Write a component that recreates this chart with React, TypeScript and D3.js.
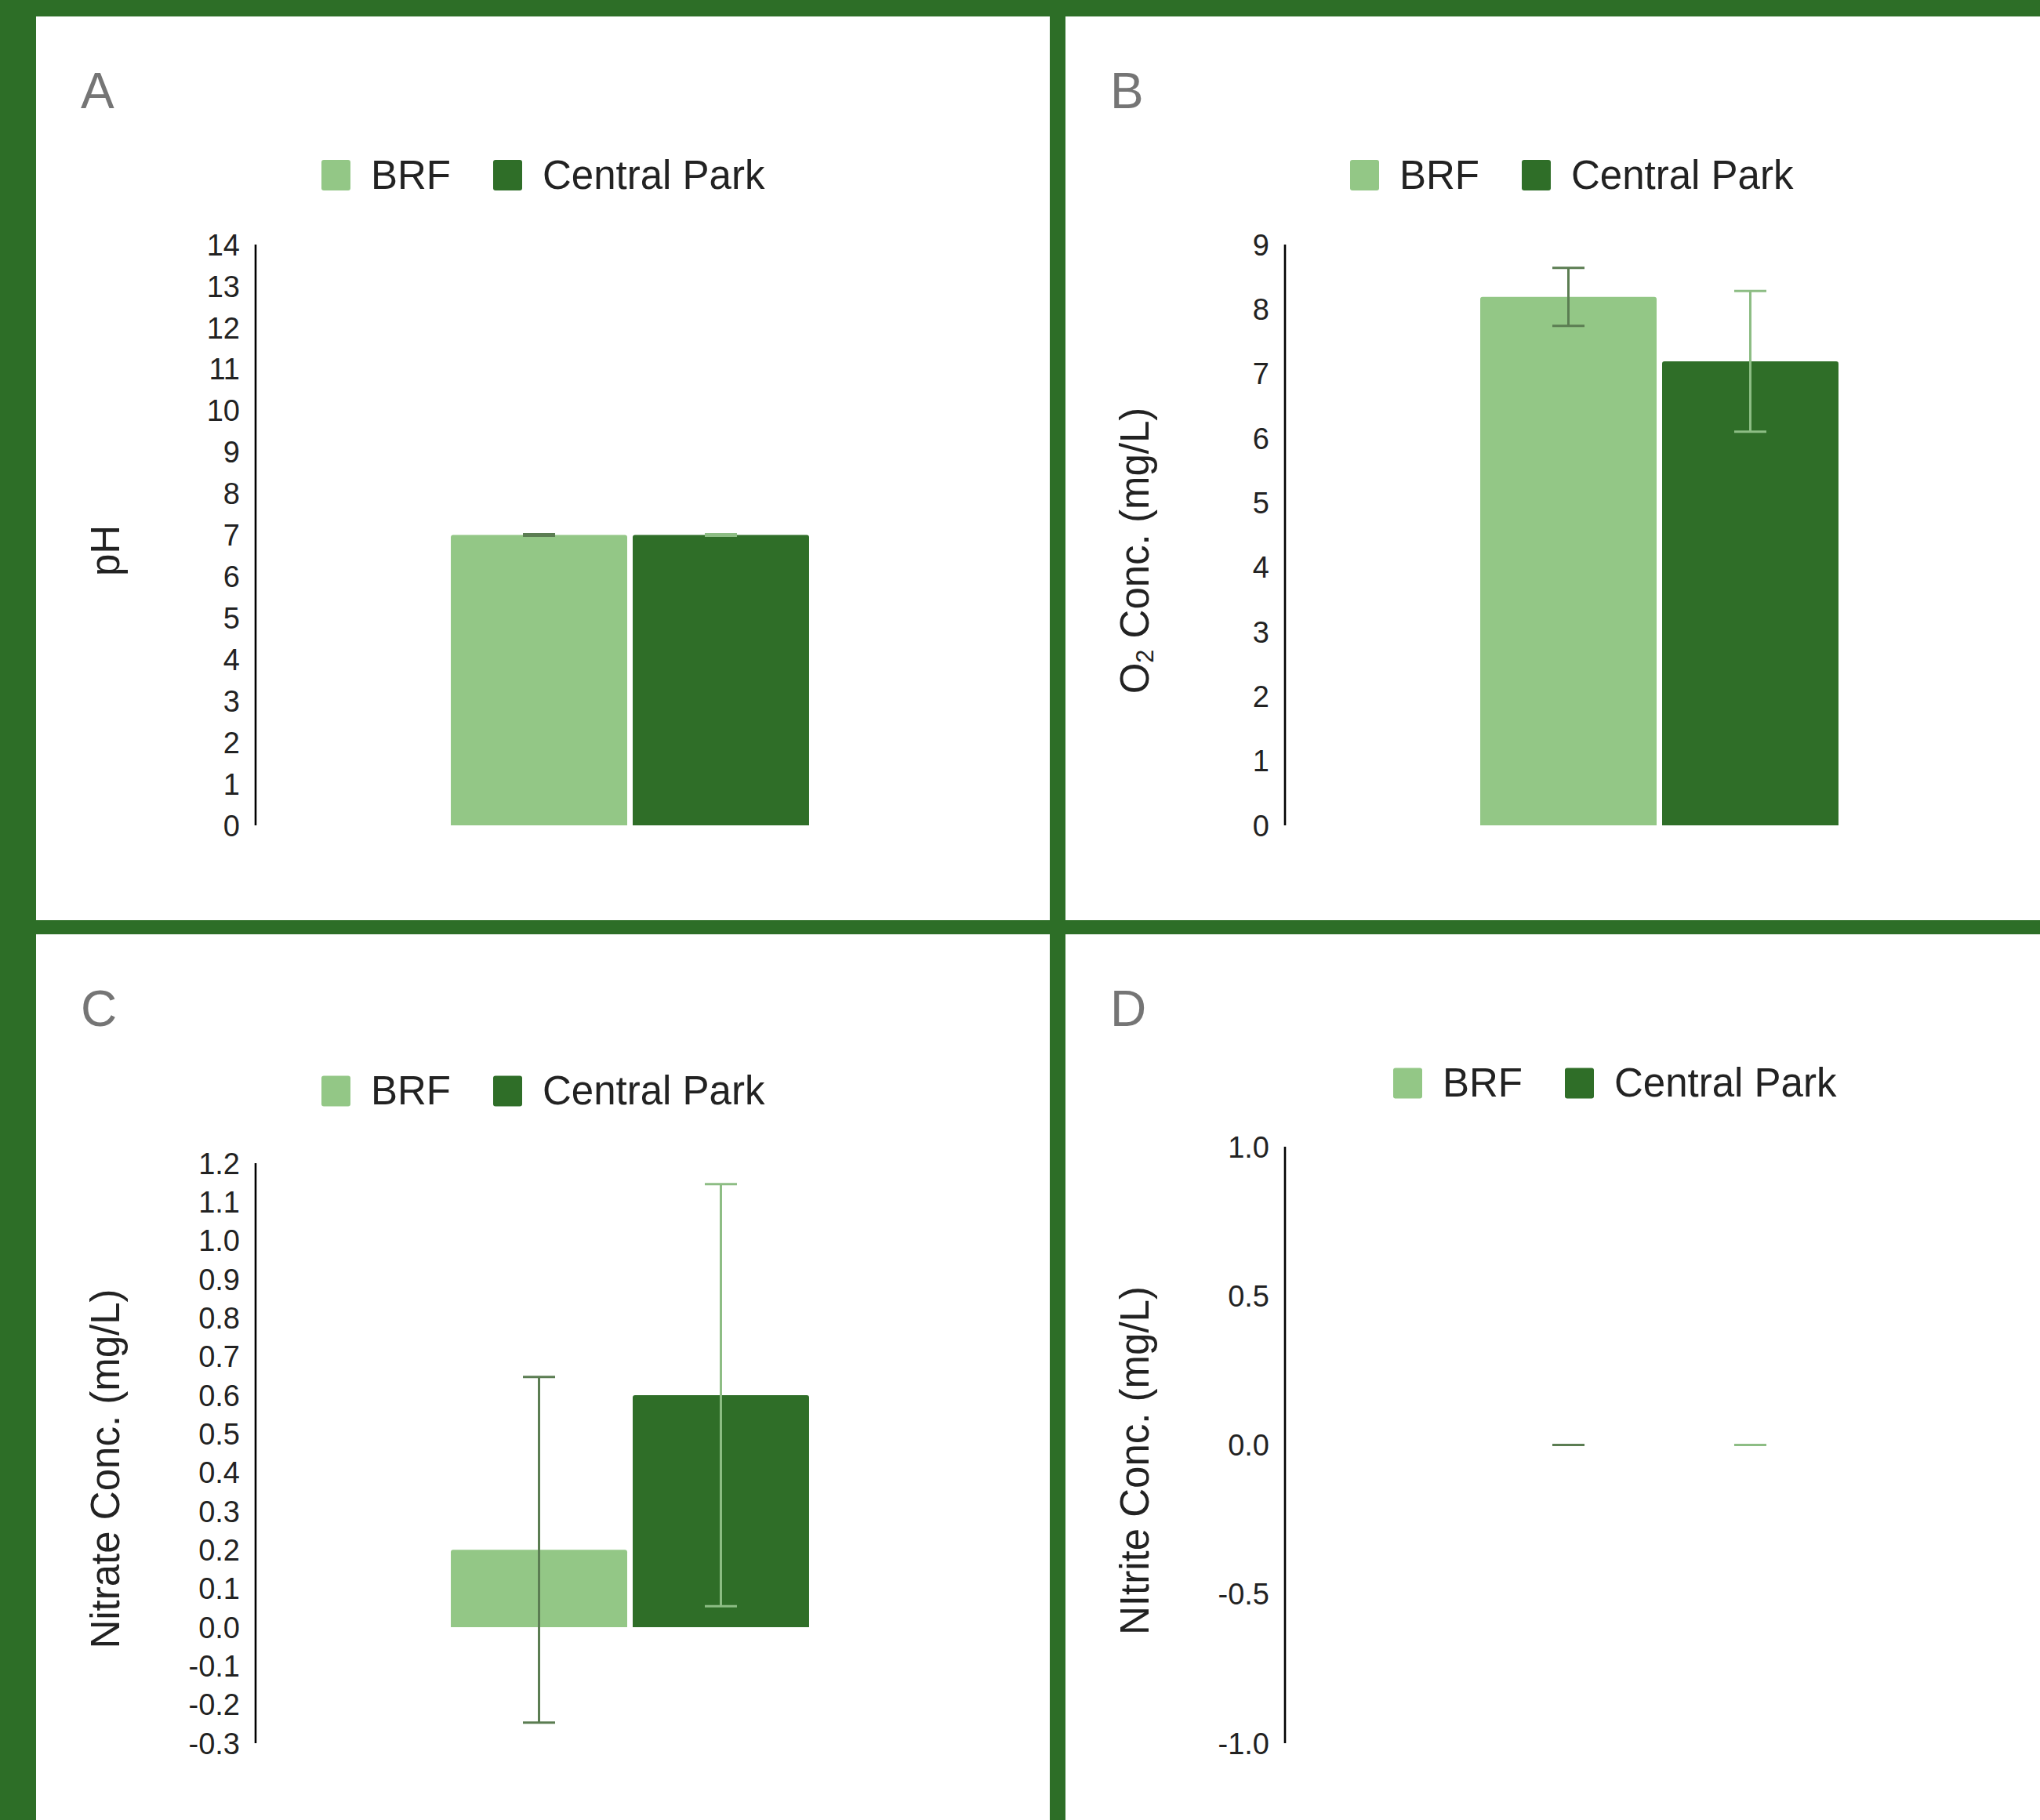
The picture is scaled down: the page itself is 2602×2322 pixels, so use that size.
import React from "react";
import * as d3 from "d3";

// ---------- data ----------
const sites = ["BRF", "Central Park"];

const phMeans = [7.0, 7.0];
const phErrors = [0.02, 0.02];

const o2Means = [8.19, 7.19];
const o2Errors = [0.45, 1.09];

const nitrateMeans = [0.2, 0.6];
const nitrateErrors = [0.447, 0.546];

const nitriteMeans = [0, 0];
const nitriteErrors = [0, 0];

const phTicks = [0, 1, 2, 3, 4, 5, 6, 7, 8, 9, 10, 11, 12, 13, 14];
const o2Ticks = [0, 1, 2, 3, 4, 5, 6, 7, 8, 9];
const nitrateTicks = [-0.3, -0.2, -0.1, 0.0, 0.1, 0.2, 0.3, 0.4, 0.5, 0.6, 0.7, 0.8, 0.9, 1.0, 1.1, 1.2];
const nitriteTicks = [-1.0, -0.5, 0.0, 0.5, 1.0];

// ---------- style ----------
const W = 2602;
const H = 2322;
const FRAME = "#2d6e27";
const BAR_COLORS = ["#93c786", "#2f6e28"];
const ERR_COLORS = ["#5b7d52", "#8dbd84"];
const FONT = "'Liberation Sans', Arial, Helvetica, sans-serif";
const TEXT = "#222222";

type PanelCfg = {
  letter: string;
  x: number;
  y: number;
  w: number;
  h: number;
  means: number[];
  errors: number[];
  ticks: number[];
  decimals: number;
  title: React.ReactNode;
  plotTop: number;
  legendLeft: number;
  legendCY: number;
};

const panels: PanelCfg[] = [
  {
    letter: "A", x: 46, y: 21, w: 1293, h: 1153,
    means: phMeans, errors: phErrors, ticks: phTicks, decimals: 0,
    title: "pH", plotTop: 291, legendLeft: 364, legendCY: 202.5,
  },
  {
    letter: "B", x: 1359, y: 21, w: 1243, h: 1153,
    means: o2Means, errors: o2Errors, ticks: o2Ticks, decimals: 0,
    title: (
      <>
        O<tspan fontSize="60%" dy="6">2</tspan>
        <tspan dy="-6"> Conc. (mg/L)</tspan>
      </>
    ),
    plotTop: 291, legendLeft: 363, legendCY: 202.5,
  },
  {
    letter: "C", x: 46, y: 1192, w: 1293, h: 1130,
    means: nitrateMeans, errors: nitrateErrors, ticks: nitrateTicks, decimals: 1,
    title: "Nitrate Conc. (mg/L)", plotTop: 292, legendLeft: 364, legendCY: 200,
  },
  {
    letter: "D", x: 1359, y: 1192, w: 1243, h: 1130,
    means: nitriteMeans, errors: nitriteErrors, ticks: nitriteTicks, decimals: 1,
    title: "NItrite Conc. (mg/L)", plotTop: 271, legendLeft: 418, legendCY: 190,
  },
];

function topRoundedBar(x: number, y: number, w: number, h: number, r: number) {
  if (h <= 0) return "";
  const rr = Math.min(r, h, w / 2);
  return `M${x},${y + h}V${y + rr}Q${x},${y} ${x + rr},${y}H${x + w - rr}Q${x + w},${y} ${x + w},${y + rr}V${y + h}Z`;
}

function Panel({ p }: { p: PanelCfg }) {
  const axisX = p.x + 280;
  const top = p.y + p.plotTop;
  const bottom = p.y + 1032;
  const plotW = 955;

  const yDomain = d3.extent(p.ticks) as [number, number];
  const y = d3.scaleLinear().domain(yDomain).range([bottom, top]);

  const x0 = d3.scaleBand<string>().domain(["site"]).range([axisX, axisX + plotW]).paddingInner(0).paddingOuter(0.545);
  const x1 = d3.scaleBand<string>().domain(sites).range([0, x0.bandwidth()]).paddingInner(0.0302).paddingOuter(0);
  const gx = x0("site") as number;

  const titleCY = (top + bottom) / 2 + 20;
  const titleX = p.x + 106;

  const lx = p.x + p.legendLeft;
  const ly = p.y + p.legendCY;
  const legendItems = [
    { name: sites[0], sw: lx, tx: lx + 63 },
    { name: sites[1], sw: lx + 219, tx: lx + 282 },
  ];

  return (
    <g>
      <rect x={p.x} y={p.y} width={p.w} height={p.h} fill="#ffffff" />
      <text x={p.x + 57} y={p.y + 117} fontSize={64} fill="#757575" fontFamily={FONT}>
        {p.letter}
      </text>

      {legendItems.map((it, i) => (
        <g key={it.name}>
          <rect x={it.sw} y={ly - 19.5} width={37} height={39} rx={3} fill={BAR_COLORS[i]} />
          <text x={it.tx} y={ly + 17} fontSize={51} fill={TEXT} fontFamily={FONT}>
            {it.name}
          </text>
        </g>
      ))}

      {/* bars */}
      {sites.map((s, i) => {
        const bx = gx + (x1(s) as number);
        const v = p.means[i];
        const y0 = y(0);
        const yv = y(v);
        const hgt = Math.abs(y0 - yv);
        return (
          <path
            key={s}
            d={topRoundedBar(bx, Math.min(y0, yv), x1.bandwidth(), hgt, 3)}
            fill={BAR_COLORS[i]}
          />
        );
      })}

      {/* error bars */}
      {sites.map((s, i) => {
        const cx = gx + (x1(s) as number) + x1.bandwidth() / 2;
        const hi = y(p.means[i] + p.errors[i]);
        const lo = y(p.means[i] - p.errors[i]);
        const cap = 20.5;
        return (
          <g key={s} stroke={ERR_COLORS[i]} strokeWidth={3}>
            <line x1={cx} x2={cx} y1={hi} y2={lo} />
            <line x1={cx - cap} x2={cx + cap} y1={hi} y2={hi} />
            <line x1={cx - cap} x2={cx + cap} y1={lo} y2={lo} />
          </g>
        );
      })}

      {/* y axis */}
      <line x1={axisX} x2={axisX} y1={top} y2={bottom} stroke="#000000" strokeWidth={2.6} />
      {p.ticks.map((t) => (
        <text
          key={t}
          x={axisX - 20}
          y={y(t)}
          dy="0.36em"
          textAnchor="end"
          fontSize={38}
          fill={TEXT}
          fontFamily={FONT}
        >
          {t.toFixed(p.decimals)}
        </text>
      ))}

      <text
        transform={`translate(${titleX},${titleCY}) rotate(-90)`}
        textAnchor="middle"
        fontSize={51}
        fill={TEXT}
        fontFamily={FONT}
      >
        {p.title}
      </text>
    </g>
  );
}

export default function App() {
  return (
    <svg
      width={W}
      height={H}
      viewBox={`0 0 ${W} ${H}`}
      style={{ position: "absolute", left: 0, top: 0, display: "block" }}
    >
      <rect x={0} y={0} width={W} height={H} fill={FRAME} />
      {panels.map((p) => (
        <Panel key={p.letter} p={p} />
      ))}
    </svg>
  );
}
